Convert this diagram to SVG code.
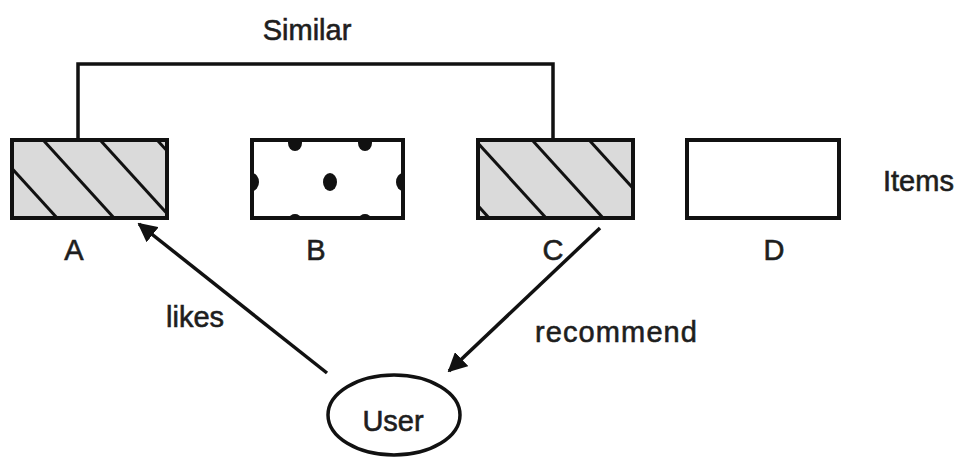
<svg xmlns="http://www.w3.org/2000/svg" width="962" height="461" viewBox="0 0 962 461">
  <style>
    .box { stroke: #111; stroke-width: 4; }
    .hatch { stroke: #111; stroke-width: 3; }
    .edge { fill: none; stroke: #111; stroke-width: 3.5; }
    .lbl { font-family: "Liberation Sans", Arial, sans-serif; font-size: 29px; fill: #1e1e1e; stroke: #1e1e1e; stroke-width: 0.6; }
    .mid { text-anchor: middle; }
  </style>
  <defs>
    <marker id="arrow" viewBox="0 0 10 10" refX="9" refY="5" markerWidth="5.5" markerHeight="5.5" markerUnits="strokeWidth" orient="auto">
      <path d="M0,0 L10,5 L0,10 Z" fill="#111"/>
    </marker>
    <clipPath id="clipA"><rect x="12" y="140" width="155" height="78"/></clipPath>
    <clipPath id="clipB"><rect x="252" y="140" width="151" height="78"/></clipPath>
    <clipPath id="clipC"><rect x="478" y="140" width="155" height="78"/></clipPath>
  </defs>

  <!-- similarity bracket between A and C -->
  <g id="similar">
    <path class="edge" d="M78,140 V64 H553 V140"/>
    <text class="lbl mid" x="307" y="40">Similar</text>
  </g>

  <!-- item A: hatched -->
  <g id="itemA">
    <rect x="12" y="140" width="155" height="78" fill="#dadada"/>
    <g clip-path="url(#clipA)" class="hatch">
      <line x1="-23" y1="130" x2="68" y2="230"/>
      <line x1="34" y1="130" x2="125" y2="230"/>
      <line x1="91" y1="130" x2="182" y2="230"/>
      <line x1="148" y1="130" x2="239" y2="230"/>
    </g>
    <rect class="box" x="12" y="140" width="155" height="78" fill="none"/>
    <text class="lbl mid" x="74" y="260">A</text>
  </g>

  <!-- item B: dotted -->
  <g id="itemB">
    <rect x="252" y="140" width="151" height="78" fill="#fff"/>
    <g clip-path="url(#clipB)" fill="#111">
      <ellipse cx="295" cy="143" rx="7" ry="8"/>
      <ellipse cx="365" cy="143" rx="7" ry="8"/>
      <ellipse cx="252" cy="182" rx="7" ry="9"/>
      <ellipse cx="330" cy="182" rx="7" ry="9"/>
      <ellipse cx="403" cy="182" rx="7" ry="9"/>
      <ellipse cx="295" cy="219" rx="6" ry="5"/>
      <ellipse cx="365" cy="219" rx="6" ry="5"/>
    </g>
    <rect class="box" x="252" y="140" width="151" height="78" fill="none"/>
    <text class="lbl mid" x="316" y="260">B</text>
  </g>

  <!-- item C: hatched -->
  <g id="itemC">
    <rect x="478" y="140" width="155" height="78" fill="#dadada"/>
    <g clip-path="url(#clipC)" class="hatch">
      <line x1="409" y1="130" x2="500" y2="230"/>
      <line x1="466" y1="130" x2="557" y2="230"/>
      <line x1="523" y1="130" x2="614" y2="230"/>
      <line x1="580" y1="130" x2="671" y2="230"/>
    </g>
    <rect class="box" x="478" y="140" width="155" height="78" fill="none"/>
    <text class="lbl mid" x="553" y="260">C</text>
  </g>

  <!-- item D: plain -->
  <g id="itemD">
    <rect class="box" x="687" y="140" width="152" height="78" fill="#fff"/>
    <text class="lbl mid" x="774" y="260">D</text>
  </g>

  <text class="lbl" x="883" y="191">Items</text>

  <!-- user -->
  <g id="user">
    <ellipse cx="394" cy="415" rx="66" ry="40" fill="#fff" stroke="#111" stroke-width="3.5"/>
    <text class="lbl mid" x="393" y="431">User</text>
  </g>

  <!-- relations -->
  <g id="connectors">
    <line class="edge" x1="327" y1="373" x2="139" y2="224" marker-end="url(#arrow)"/>
    <line class="edge" x1="600" y1="228" x2="449" y2="371" marker-end="url(#arrow)"/>
    <text class="lbl" x="166" y="327">likes</text>
    <text class="lbl" x="535" y="342" textLength="162">recommend</text>
  </g>
</svg>
